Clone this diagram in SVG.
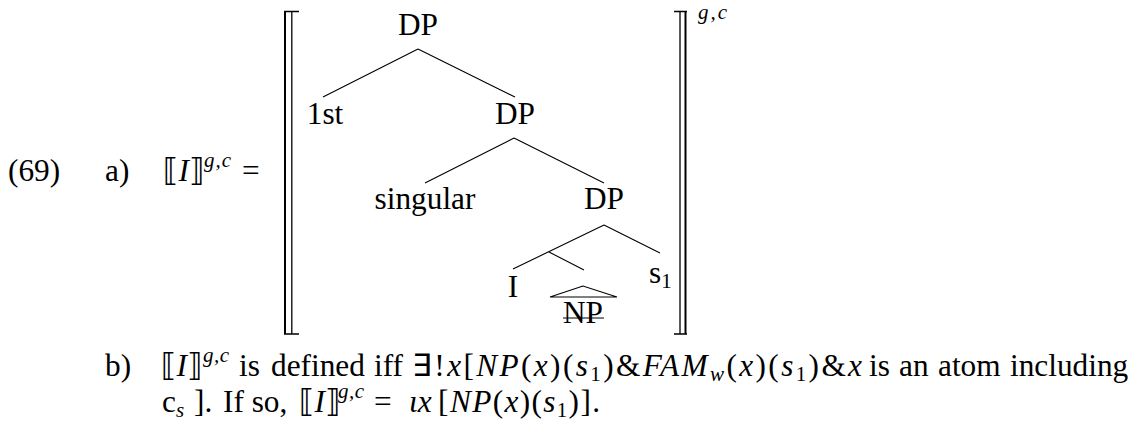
<svg xmlns="http://www.w3.org/2000/svg" width="1139" height="434" viewBox="0 0 1139 434">
<style>
text{font-family:"Liberation Serif","Times New Roman",serif;font-size:31.3px;fill:#000}
.it{font-style:italic}
.sup{font-size:21px;font-style:italic}
.sub{font-size:21px}
.br{font-family:"DejaVu Serif","DejaVu Sans",serif;font-style:normal}
.c{text-anchor:middle}
.edge{stroke:#000;stroke-width:1.1;fill:none}
.bro{stroke:#000;stroke-width:2;fill:none}
.bri{stroke:#000;stroke-width:1.3;fill:none}
</style>
<rect width="1139" height="434" fill="#fff"/>
<g id="label">
<text x="8" y="181">(69)</text>
<text x="105" y="181">a)</text>
<text x="163" y="181"><tspan class="br">⟦</tspan><tspan class="it">I</tspan><tspan class="br">⟧</tspan></text>
<text x="204" y="167" class="sup" textLength="27">g,c</text>
<text x="242" y="181">=</text>
</g>
<g id="brackets">
<path class="bro" d="M285,11.5 V334"/>
<path class="bri" d="M291.8,11.5 V334"/>
<path class="bro" d="M284,11.5 H299 M284,334 H299" style="stroke-width:1.6"/>
<path class="bro" d="M685.5,11.5 V334"/>
<path class="bri" d="M680,11.5 V334"/>
<path class="bro" d="M674,11.5 H687 M674,334 H687" style="stroke-width:1.6"/>
<text x="698" y="19" class="sup" textLength="29">g,c</text>
</g>
<g id="connectors">
<path class="edge" d="M418,49 L323,97 M418,49 L515,97"/>
<path class="edge" d="M514,138 L425,183 M514,138 L604,183"/>
<path class="edge" d="M604,225 L513,269 M604,225 L660,253 M549,252 L584,270"/>
</g>
<g id="dp1"><text x="418" y="35" class="c">DP</text></g>
<g id="first"><text x="325" y="124" class="c">1st</text></g>
<g id="dp2"><text x="515" y="124" class="c">DP</text></g>
<g id="singular"><text x="425" y="209" class="c">singular</text></g>
<g id="dp3"><text x="604" y="209" class="c">DP</text></g>
<g id="i"><text x="513" y="297" class="c">I</text></g>
<g id="np">
<path class="edge" d="M583,286 L550,297 L617,297 Z"/>
<text x="583" y="323" class="c">NP</text>
<path class="edge" d="M563,318 H604"/>
</g>
<g id="s1"><text x="649" y="283">s<tspan class="sub" dy="5">1</tspan></text></g>
<g id="b">
<text x="105" y="376">b)</text>
<text x="161" y="376"><tspan class="br">⟦</tspan><tspan class="it">I</tspan><tspan class="br">⟧</tspan></text>
<text x="203" y="362" class="sup" textLength="26">g,c</text>
<text x="239" y="376">is</text>
<text x="271" y="376">defined</text>
<text x="374" y="376">iff</text>
<text x="412" y="376" textLength="450">∃!<tspan class="it">x</tspan>[<tspan class="it">NP</tspan>(<tspan class="it">x</tspan>)(<tspan class="it">s</tspan><tspan class="sub" dy="5">1</tspan><tspan dy="-5">)&amp;</tspan><tspan class="it">FAM</tspan><tspan class="sup" dy="5">w</tspan><tspan dy="-5">(</tspan><tspan class="it">x</tspan>)(<tspan class="it">s</tspan><tspan class="sub" dy="5">1</tspan><tspan dy="-5">)&amp;</tspan><tspan class="it">x</tspan></text>
<text x="869" y="376">is</text>
<text x="899" y="376">an</text>
<text x="938" y="376">atom</text>
<text x="1010" y="376">including</text>
<text x="162" y="412">c<tspan class="sup" dy="5">s</tspan></text>
<text x="194" y="412">].</text>
<text x="223" y="412">If so,</text>
<text x="299" y="412"><tspan class="br">⟦</tspan><tspan class="it">I</tspan><tspan class="br">⟧</tspan></text>
<text x="338" y="398" class="sup" textLength="26">g,c</text>
<text x="374" y="412">=</text>
<text x="409" y="412" class="it">ιx</text>
<text x="438" y="412">[</text>
<text x="450" y="412" textLength="150"><tspan class="it">NP</tspan>(<tspan class="it">x</tspan>)(<tspan class="it">s</tspan><tspan class="sub" dy="5">1</tspan><tspan dy="-5">)].</tspan></text>
</g>
</svg>
